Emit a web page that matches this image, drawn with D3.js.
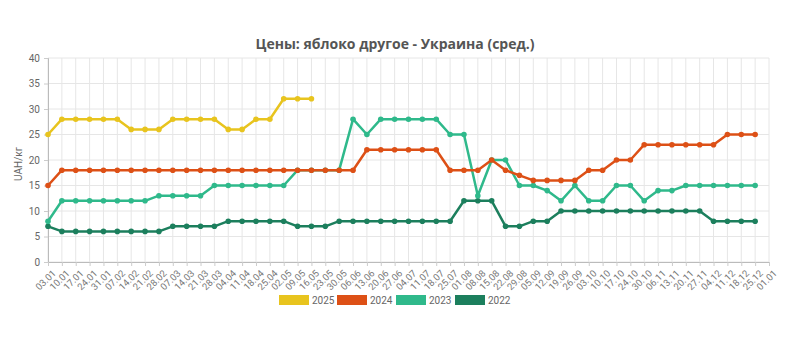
<!DOCTYPE html>
<html><head><meta charset="utf-8">
<script src="https://cdn.jsdelivr.net/npm/d3@7"></script>
<style>body{margin:0;background:#fff;font-family:Roboto, "Noto Sans", sans-serif;}</style>
</head><body><svg id="c" width="795" height="356"></svg>
<script>
const categories = ["03.01","10.01","17.01","24.01","31.01","07.02","14.02","21.02","28.02","07.03","14.03","21.03","28.03","04.04","11.04","18.04","25.04","02.05","09.05","16.05","23.05","30.05","06.06","13.06","20.06","27.06","04.07","11.07","18.07","25.07","01.08","08.08","15.08","22.08","29.08","05.09","12.09","19.09","26.09","03.10","10.10","17.10","24.10","30.10","06.11","13.11","20.11","27.11","04.12","11.12","18.12","25.12","01.01"];
const yTicks = [0,5,10,15,20,25,30,35,40];
const s2025 = [25,28,28,28,28,28,26,26,26,28,28,28,28,26,26,28,28,32,32,32];
const s2024 = [15,18,18,18,18,18,18,18,18,18,18,18,18,18,18,18,18,18,18,18,18,18,18,22,22,22,22,22,22,18,18,18,20,18,17,16,16,16,16,18,18,20,20,23,23,23,23,23,23,25,25,25];
const s2023 = [8,12,12,12,12,12,12,12,13,13,13,13,15,15,15,15,15,15,18,18,18,18,28,25,28,28,28,28,28,25,25,13,20,20,15,15,14,12,15,12,12,15,15,12,14,14,15,15,15,15,15,15];
const s2022 = [7,6,6,6,6,6,6,6,6,7,7,7,7,8,8,8,8,8,7,7,7,8,8,8,8,8,8,8,8,8,12,12,12,7,7,8,8,10,10,10,10,10,10,10,10,10,10,10,8,8,8,8];
const seriesNames = ["2025","2024","2023","2022"];
const seriesColors = ["#e8c41e","#dd5016","#2fb98b","#1c7f5d"];
const seriesData = [s2025, s2024, s2023, s2022];

const svg = d3.select("#c");
const m = {l:48, r:26, t:58, b:94};
const W = 795, H = 356;
const x = d3.scalePoint().domain(categories).range([m.l, W - m.r]);
const y = d3.scaleLinear().domain([0,40]).range([H - m.b, m.t]);

// grid
svg.append("g").selectAll("line").data(categories).join("line")
  .attr("x1", d=>x(d)).attr("x2", d=>x(d)).attr("y1", y(0)).attr("y2", y(40))
  .attr("stroke", "#e6e6e6").attr("stroke-width", 1);
svg.append("g").selectAll("line").data(yTicks).join("line")
  .attr("x1", m.l).attr("x2", W - m.r).attr("y1", d=>y(d)).attr("y2", d=>y(d))
  .attr("stroke", "#e6e6e6").attr("stroke-width", 1);

// axes
const yAxis = svg.append("g").attr("transform", `translate(${m.l},0)`)
  .call(d3.axisLeft(y).tickValues(yTicks).tickSize(4).tickPadding(4));
yAxis.select(".domain").attr("stroke", "#bbb");
yAxis.selectAll(".tick line").attr("stroke", "#ccc");
yAxis.selectAll("text").attr("fill", "#666").style("font-size", "10px").style("font-family", "Roboto, sans-serif");

const xAxis = svg.append("g").attr("transform", `translate(0,${y(0)})`)
  .call(d3.axisBottom(x).tickSize(4).tickPadding(3));
xAxis.select(".domain").attr("stroke", "#bbb");
xAxis.selectAll(".tick line").attr("stroke", "#ccc");
xAxis.selectAll("text").attr("fill", "#777").style("font-size", "9.5px").style("font-family", "Roboto, sans-serif")
  .attr("text-anchor", "end").attr("dx", "0").attr("dy", "0")
  .attr("transform", "translate(3,7) rotate(-45)");

// lines
const line = d3.line().x((d,i)=>x(categories[i])).y(d=>y(d));
const order = [3,2,1,0];
order.forEach(k=>{
  const g = svg.append("g");
  g.append("path").datum(seriesData[k]).attr("d", line)
    .attr("fill","none").attr("stroke", seriesColors[k]).attr("stroke-width", 2.5)
    .attr("stroke-linejoin","round");
  g.selectAll("circle").data(seriesData[k]).join("circle")
    .attr("cx", (d,i)=>x(categories[i])).attr("cy", d=>y(d)).attr("r", 2.8)
    .attr("fill", seriesColors[k]);
});

// title
svg.append("text").attr("x", 395).attr("y", 49).attr("text-anchor","middle")
  .attr("fill","#555").style("font-size","14px").style("font-weight","bold")
  .style("font-family","'Open Sans', sans-serif")
  .text("Цены: яблоко другое - Украина (сред.)");

// y label
svg.append("text").attr("transform", `translate(22,${(y(0)+y(40))/2 + 4}) rotate(-90)`)
  .attr("text-anchor","middle").attr("fill","#666").style("font-size","10px")
  .style("font-family","Roboto, sans-serif").text("UAH/кг");

// legend
const lg = svg.append("g");
const lx = [279, 337, 396, 455];
seriesNames.forEach((n,i)=>{
  lg.append("rect").attr("x", lx[i]).attr("y", 295).attr("width", 30).attr("height", 10)
    .attr("fill", seriesColors[i]);
  lg.append("text").attr("x", lx[i]+33).attr("y", 304).attr("fill","#666")
    .style("font-size","10px").style("font-family","Roboto, sans-serif").text(n);
});
</script></body></html>
